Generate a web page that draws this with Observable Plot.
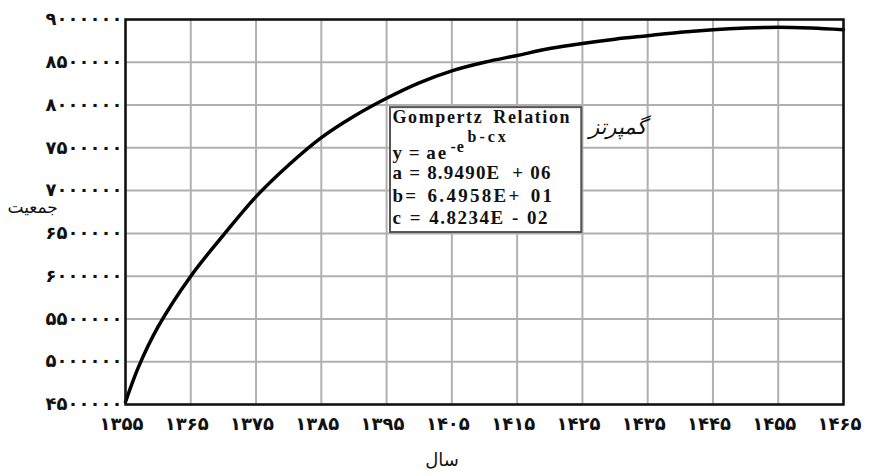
<!DOCTYPE html>
<html>
<head>
<meta charset="utf-8">
<script src="https://cdn.jsdelivr.net/npm/d3@7"></script>
<script src="https://cdn.jsdelivr.net/npm/@observablehq/plot@0.6"></script>
<style>
  html, body { margin: 0; padding: 0; background: #fff; overflow: hidden; }
  #chart svg { display: block; }
  g[aria-label="x-axis tick label"] text { font-family: "DejaVu Sans"; font-weight: bold; font-size: 18px; letter-spacing: 3.7px; fill: #111; }
  g[aria-label="y-axis tick label"] text { font-family: "DejaVu Sans"; font-weight: bold; font-size: 18px; letter-spacing: 5.2px; fill: #111; }
</style>
</head>
<body>
<div id="chart"></div>
<script>
// ---- data ----
const years = [1355, 1357, 1360, 1365, 1370, 1375, 1380, 1385, 1390, 1395, 1400, 1405, 1410, 1415, 1420, 1425, 1430, 1435, 1440, 1445, 1450, 1455, 1460, 1465];
const population = [4530000, 4940000, 5410000, 6000000, 6480000, 6930000, 7300000, 7620000, 7870000, 8080000, 8260000, 8400000, 8500000, 8580000, 8660000, 8720000, 8770000, 8810000, 8850000, 8880000, 8900000, 8910000, 8900000, 8880000];
const xTicks = [1355, 1365, 1375, 1385, 1395, 1405, 1415, 1425, 1435, 1445, 1455, 1465];
const yTicks = [4500000, 5000000, 5500000, 6000000, 6500000, 7000000, 7500000, 8000000, 8500000, 9000000];
const boxLines = ["Gompertz Relation", "b-cx", "y = ae", "-e", "a = 8.9490E  + 06", "b= 6.4958E+ 01", "c = 4.8234E - 02"];
const xLabel = "سال";
const yLabel = "جمعیت";
const curveLabel = "گمپرتز";

const fa = d => String(d).replace(/\d/g, c => "۰۱۲۳۴۵۶۷۸۹"[+c]);
const data = years.map((t, i) => ({year: t, pop: population[i]}));

// annotation box placement (data space)
const bx1 = 1395.6, bx2 = 1424.9, by1 = 6510000, by2 = 7970000;
const boxText = [
  {t: boxLines[0], dx: 2, dy: 15, fs: 18, ls: 1.6, ws: 4},
  {t: boxLines[1], dx: 77, dy: 34, fs: 16, ls: 3, ws: 0},
  {t: boxLines[2], dx: 2, dy: 51, fs: 19, ls: 2, ws: -2},
  {t: boxLines[3], dx: 60, dy: 44, fs: 16, ls: 1, ws: 0},
  {t: boxLines[4], dx: 2, dy: 71, fs: 19, ls: 1.2, ws: 0},
  {t: boxLines[5], dx: 2, dy: 94, fs: 19, ls: 2.3, ws: 2},
  {t: boxLines[6], dx: 2, dy: 116, fs: 19, ls: 1.5, ws: 1}
];

const chart = Plot.plot({
  width: 869,
  height: 476,
  marginLeft: 125,
  marginRight: 26,
  marginTop: 19,
  marginBottom: 72,
  x: {domain: [1355, 1465]},
  y: {domain: [4500000, 9000000]},
  marks: [
    Plot.gridX(xTicks, {stroke: "#b0b0b0", strokeOpacity: 1, strokeWidth: 2}),
    Plot.gridY(yTicks, {stroke: "#b0b0b0", strokeOpacity: 1, strokeWidth: 2}),
    Plot.line(data, {x: "year", y: "pop", stroke: "#000", strokeWidth: 3.5, curve: "catmull-rom"}),
    Plot.rect([0], {x1: bx1, x2: bx2, y1: by1, y2: by2, fill: "white", stroke: "#555", strokeWidth: 2}),
    ...boxText.map(b => Plot.text([b.t], {
      x: bx1, y: by2, text: d => d, dx: b.dx, dy: b.dy, textAnchor: "start", lineAnchor: "bottom",
      fontFamily: "Liberation Serif", fontWeight: "bold", fontSize: b.fs, fill: "#111"
    })),
    Plot.text([curveLabel], {x: 1426, y: 7740000, text: d => d, textAnchor: "start", fontFamily: "DejaVu Sans", fontSize: 21, fontStyle: "italic", fill: "#111"}),
    Plot.text([yLabel], {x: 1355, y: 6800000, text: d => d, dx: -118, textAnchor: "start", fontFamily: "DejaVu Sans", fontSize: 17, fill: "#111"}),
    Plot.text([xLabel], {x: 1403.5, frameAnchor: "bottom", text: d => d, dy: 61, fontFamily: "DejaVu Sans", fontSize: 18, fill: "#111"}),
    Plot.frame({stroke: "#111", strokeWidth: 2.5}),
    Plot.axisX({ticks: xTicks, tickFormat: fa, tickSize: 0, tickPadding: 13, dx: -4, label: null}),
    Plot.axisY({ticks: yTicks, tickFormat: fa, tickSize: 0, tickPadding: 3, label: null})
  ]
});
// spread the box lettering like the stretched original
d3.select(chart).selectAll("text").each(function() {
  const b = boxText.find(e => e.t === this.textContent);
  if (b) d3.select(this).style("letter-spacing", b.ls + "px").style("word-spacing", b.ws + "px");
});
document.getElementById("chart").appendChild(chart);
</script>
</body>
</html>
